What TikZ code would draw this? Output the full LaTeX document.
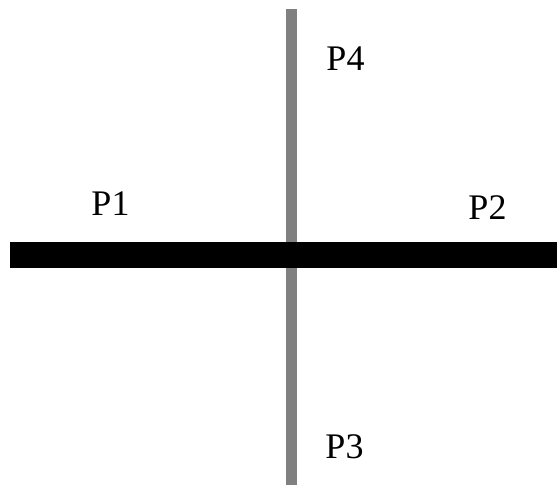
\documentclass[tikz,border=0pt]{standalone}
\usepackage{fontspec}
\setmainfont{Liberation Serif}
\usetikzlibrary{positioning}
\definecolor{GrisTige}{RGB}{128,128,128}
\tikzset{bande/.style={draw=black, line width=26pt}}
\tikzset{tige/.style={draw=GrisTige, line width=11pt}}
\tikzset{lbl/.style={anchor=base, inner sep=0pt, font=\fontsize{36}{43}\selectfont}}
\begin{document}
\begin{tikzpicture}[x=1pt, y=-1pt]
\useasboundingbox (0,0) rectangle (557,485);
\coordinate (haut) at (291.5,9);
\coordinate (bas) at (291.5,485);
\coordinate (gauche) at (10,255);
\coordinate (droite) at (557,255);
\draw[tige] (haut) -- (bas);
\draw[bande] (gauche) -- (droite);
\node[lbl] (p1) at (110.5,215) {P1};
\node[lbl] (p2) at (487.5,219) {P2};
\node[lbl] (p4) at (345.5,70) {P4};
\node[lbl] (p3) at (344.5,458) {P3};
\end{tikzpicture}
\end{document}
